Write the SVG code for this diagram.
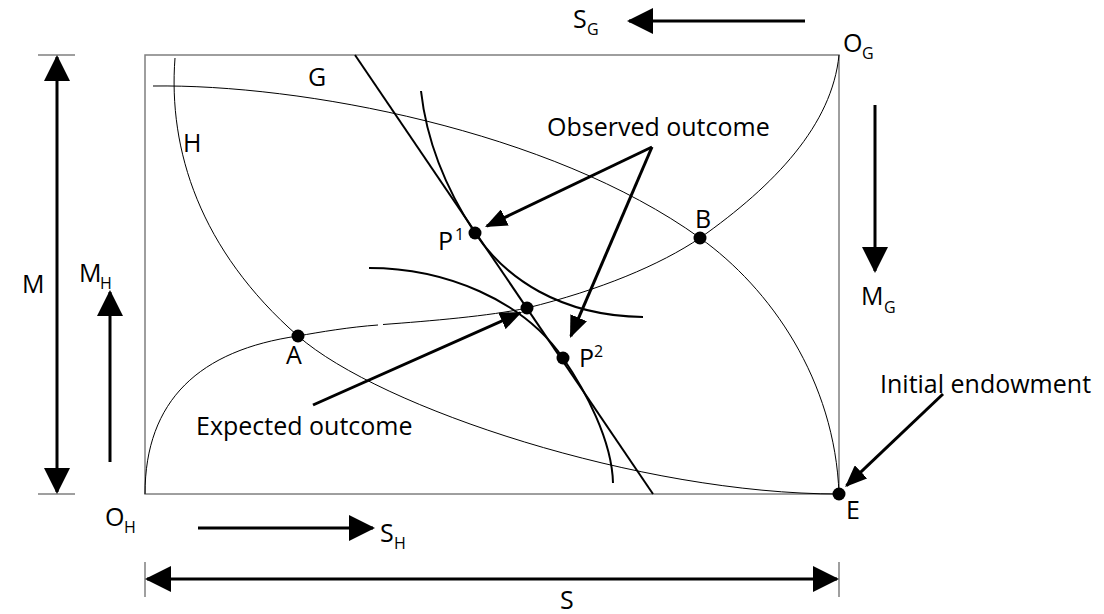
<svg xmlns="http://www.w3.org/2000/svg" width="1104" height="614" viewBox="0 0 1104 614">
<style>
text{font-family:"Open Sans","Liberation Sans",sans-serif;font-size:25px;fill:#000}
.sub{font-size:16px}
.frame{fill:none;stroke:#7f7f7f;stroke-width:1.5}
.thin{fill:none;stroke:#000;stroke-width:1}
.thick{fill:none;stroke:#000;stroke-width:2}
.arr{fill:none;stroke:#000;stroke-width:3}
.big{marker-end:url(#ah)}
.ptr{marker-end:url(#ap)}
.dot{fill:#000}
</style>
<defs>
<marker id="ah" viewBox="0 0 26 26" refX="24" refY="13" markerWidth="26" markerHeight="26" markerUnits="userSpaceOnUse" orient="auto-start-reverse"><path d="M0,0 L26,13 L0,26 z" fill="#000"/></marker>
<marker id="ap" viewBox="0 0 22 18" refX="20" refY="9" markerWidth="22" markerHeight="18" markerUnits="userSpaceOnUse" orient="auto"><path d="M0,0 L22,9 L0,18 z" fill="#000"/></marker>
</defs>
<g id="frame">
<rect class="frame" x="145" y="55" width="694" height="439"/>
<line class="frame" x1="38" y1="55" x2="75" y2="55"/>
<line class="frame" x1="38" y1="494" x2="75" y2="494"/>
<line class="frame" x1="145" y1="562" x2="145" y2="597"/>
<line class="frame" x1="839" y1="562" x2="839" y2="597"/>
</g>
<g id="curves">
<path id="curve-H" class="thin" d="M175,58 C168,150 200,250 298,336 C380,408 640,494 839,494"/>
<path id="curve-G" class="thin" d="M153,86 C300,84 550,130 700,238 C770,288 835,380 839,494"/>
<path id="contract-curve" class="thin" d="M145,494 C145,400 200,350 298,336 C320,332 350,327 378,325 M383,324.5 C430,321 490,316 527,308 C600,290 660,265 700,238 C775,185 832,125 839,55"/>
<line id="budget-line" class="thick" x1="355" y1="55" x2="653" y2="494"/>
<path id="curve-G-P1" class="thick" d="M421,91 C427,145 450,195 475,233 C505,278 560,316 643,317"/>
<path id="curve-H-P2" class="thick" d="M369,268 C445,268 523,300 563,358 C585,390 612,440 613,483"/>
</g>
<g id="connectors">
<line class="arr big" x1="57" y1="57" x2="57" y2="492" style="marker-start:url(#ah)"/>
<line class="arr big" x1="110" y1="462" x2="110" y2="292"/>
<line class="arr big" x1="805" y1="21" x2="629" y2="21"/>
<line class="arr big" x1="875" y1="105" x2="875" y2="271"/>
<line class="arr big" x1="198" y1="528" x2="373" y2="528"/>
<line class="arr big" x1="147" y1="579" x2="837" y2="579" style="marker-start:url(#ah)"/>
<line class="arr ptr" x1="652" y1="147" x2="486.8" y2="226.1"/>
<line class="arr ptr" x1="652" y1="147" x2="570.8" y2="336.2"/>
<line class="arr ptr" x1="313" y1="405" x2="520.2" y2="312.8"/>
<line class="arr ptr" x1="943" y1="394" x2="846.5" y2="485.6"/>
</g>
<g id="node-P1"><circle class="dot" cx="475" cy="233" r="6.5"/><text x="438" y="250">P</text><text class="sub" x="455" y="240">1</text></g>
<g id="node-center"><circle class="dot" cx="527" cy="308" r="6.5"/></g>
<g id="node-P2"><circle class="dot" cx="563" cy="358" r="6.5"/><text x="579" y="367">P</text><text class="sub" x="594" y="357">2</text></g>
<g id="node-A"><circle class="dot" cx="298" cy="336" r="6.5"/><text x="286" y="364">A</text></g>
<g id="node-B"><circle class="dot" cx="700" cy="238" r="6.5"/><text x="695" y="228">B</text></g>
<g id="node-E"><circle class="dot" cx="839" cy="494" r="6.5"/><text x="846" y="519">E</text></g>
<g id="labels">
<text x="308" y="86">G</text>
<text x="183" y="152">H</text>
<text x="547" y="136">Observed outcome</text>
<text x="196" y="435">Expected outcome</text>
<text x="880" y="393">Initial endowment</text>
<text x="22" y="293">M</text>
<text x="79" y="282">M</text><text class="sub" x="100" y="289">H</text>
<text x="861" y="305">M</text><text class="sub" x="884" y="313">G</text>
<text x="573" y="28">S</text><text class="sub" x="587" y="35">G</text>
<text x="843" y="52">O</text><text class="sub" x="862" y="59">G</text>
<text x="105" y="526">O</text><text class="sub" x="124" y="533">H</text>
<text x="380" y="542">S</text><text class="sub" x="394" y="549">H</text>
<text x="560" y="609">S</text>
</g>
</svg>
